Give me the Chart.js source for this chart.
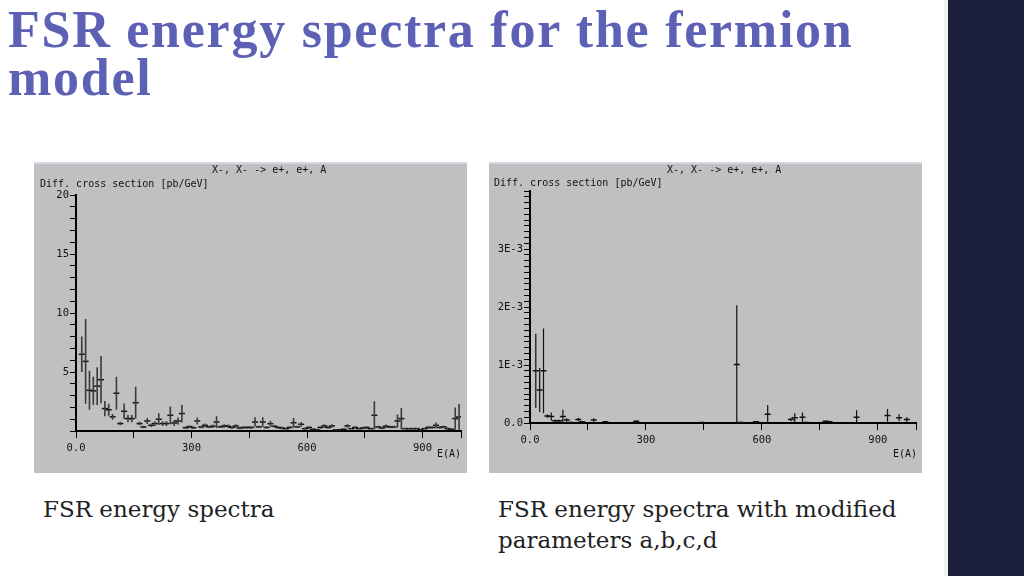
<!DOCTYPE html>
<html>
<head>
<meta charset="utf-8">
<script src="https://cdn.jsdelivr.net/npm/chart.js@4.4.1/dist/chart.umd.min.js"></script>
<style>
  body { margin: 0; width: 1024px; height: 576px; background: #fff; position: relative; overflow: hidden; }
  .title { position: absolute; left: 8px; top: 6px; width: 935px; font-family: 'Liberation Serif', serif; font-weight: bold; font-size: 52px; line-height: 48px; letter-spacing: 1.75px; color: #5c61b5; }
  .sidebar { position: absolute; left: 948px; top: 0; width: 76px; height: 576px; background: #1c1f3c; }
  .sideline { position: absolute; left: 944px; top: 0; width: 4px; height: 576px; background: #f0f0f4; }
  .panel { position: absolute; top: 162px; width: 433px; height: 311px; background: #c0c0c0; border-top: 2px solid #d6d6e4; box-sizing: border-box; }
  .panel canvas { position: absolute; left: 0; top: -2px; }
  .ptxt { position: absolute; font-family: 'DejaVu Sans Mono', monospace; font-size: 10px; color: #111; white-space: pre; }
  .caption { position: absolute; font-family: 'DejaVu Serif', serif; font-size: 23px; line-height: 31px; color: #222; }
</style>
</head>
<body>
<div class="title">FSR energy spectra for the fermion<br>model</div>
<div class="sideline"></div>
<div class="sidebar"></div>

<div class="panel" style="left:34px">
  <canvas id="leftChart" width="433" height="311"></canvas>
  <div class="ptxt" style="left:178px; top:0px">X-, X- -&gt; e+, e+, A</div>
  <div class="ptxt" style="left:6px; top:14px">Diff. cross section [pb/GeV]</div>
  <div class="ptxt" style="left:403px; top:284px">E(A)</div>
</div>

<div class="panel" style="left:489px">
  <canvas id="rightChart" width="433" height="311"></canvas>
  <div class="ptxt" style="left:178px; top:0px">X-, X- -&gt; e+, e+, A</div>
  <div class="ptxt" style="left:5px; top:13px">Diff. cross section [pb/GeV]</div>
  <div class="ptxt" style="left:404px; top:284px">E(A)</div>
</div>

<div class="caption" style="left:43px; top:494px">FSR energy spectra</div>
<div class="caption" style="left:498px; top:494px">FSR energy spectra with modified<br>parameters a,b,c,d</div>

<script>
// Left spectrum: bin centre E(A), value [pb/GeV], error
const leftEnergy = [15, 25, 35, 45, 55, 65, 75, 85, 95, 105, 115, 125, 135, 145, 155, 165, 175, 185, 195, 205,
  215, 225, 235, 245, 255, 265, 275, 285, 295, 305, 315, 325, 335, 345, 355, 365, 375, 385, 395, 405,
  415, 425, 435, 445, 455, 465, 475, 485, 495, 505, 515, 525, 535, 545, 555, 565, 575, 585, 595, 605,
  615, 625, 635, 645, 655, 665, 675, 685, 695, 705, 715, 725, 735, 745, 755, 765, 775, 785, 795, 805,
  815, 825, 835, 845, 855, 865, 875, 885, 895, 905, 915, 925, 935, 945, 955, 965, 975, 985, 995];
const leftValue = [6.5, 5.9, 3.45, 3.4, 3.8, 4.35, 1.9, 1.8, 1.2, 3.2, 0.63, 1.67, 1.05, 1.05, 2.4, 0.63, 0.34, 0.85, 0.48, 0.63,
  1.0, 0.63, 0.63, 1.33, 0.68, 0.85, 1.48, 0.28, 0.37, 0.28, 0.85, 0.34, 0.48, 0.35, 0.4, 0.76, 0.35, 0.43, 0.4, 0.3,
  0.43, 0.25, 0.3, 0.3, 0.3, 0.76, 0.35, 0.76, 0.3, 0.62, 0.4, 0.3, 0.25, 0.2, 0.3, 0.7, 0.35, 0.57, 0.2, 0.3,
  0.15, 0.1, 0.3, 0.43, 0.3, 0.43, 0.1, 0.1, 0.15, 0.43, 0.2, 0.3, 0.2, 0.25, 0.3, 0.2, 1.33, 0.34, 0.25, 0.4,
  0.34, 0.34, 0.85, 1.05, 0.2, 0.2, 0.2, 0.2, 0.1, 0.2, 0.3, 0.3, 0.48, 0.3, 0.35, 0.2, 0.15, 1.05, 1.19];
const leftError = [1.5, 3.6, 1.65, 1.2, 1.6, 2.0, 0.65, 0.5, 0.25, 1.4, 0.15, 0.65, 0.3, 0.3, 1.35, 0.15, 0.1, 0.25, 0.15, 0.2,
  0.5, 0.2, 0.2, 0.75, 0.25, 0.3, 0.75, 0.1, 0.1, 0.1, 0.3, 0.1, 0.15, 0.1, 0.15, 0.5, 0.1, 0.15, 0.15, 0.1,
  0.15, 0.1, 0.1, 0.1, 0.1, 0.4, 0.1, 0.4, 0.1, 0.25, 0.1, 0.1, 0.1, 0.05, 0.1, 0.4, 0.1, 0.2, 0.1, 0.1,
  0.05, 0.05, 0.1, 0.15, 0.1, 0.15, 0.05, 0.05, 0.05, 0.15, 0.05, 0.1, 0.05, 0.1, 0.1, 0.05, 1.2, 0.1, 0.1, 0.15,
  0.1, 0.1, 0.55, 0.9, 0.05, 0.05, 0.05, 0.05, 0.05, 0.05, 0.1, 0.1, 0.25, 0.1, 0.1, 0.1, 0.05, 0.95, 1.1];

// Right spectrum (modified a,b,c,d): only non-empty bins
const rightEnergy = [15, 25, 35, 45, 55, 65, 75, 85, 95, 105, 125, 135, 165, 195, 275, 445, 535, 545, 585, 615,
  675, 685, 705, 715, 765, 775, 845, 925, 955, 975];
const rightValue = [0.00090, 0.00057, 0.00090, 0.00012, 0.00011, 0.00004, 0.00004, 0.00011, 0.00005, 0.00001, 0.00006, 0.00002, 0.00005, 0.00002, 0.00003,
  0.00001, 0.00101, 0.00001, 0.00002, 0.00015, 0.00006, 0.00009, 0.00010, 0.00001, 0.00003, 0.00002, 0.00010, 0.00013, 0.00009, 0.00006];
const rightError = [0.00064, 0.00038, 0.00073, 0.00003, 0.00007, 0.00002, 0.00002, 0.00012, 0.00003, 0.00001, 0.00003, 0.00001, 0.00003, 0.00001, 0.00001,
  0.00001, 0.00102, 0.00001, 0.00001, 0.00016, 0.00003, 0.00008, 0.00008, 0.00001, 0.00001, 0.00001, 0.00012, 0.00011, 0.00006, 0.00004];

const xTickLabels = {0: '0.0', 300: '300', 600: '600', 900: '900'};
const leftYTickLabels = {5: '5', 10: '10', 15: '15', 20: '20'};
const rightYTickLabels = {0: '0.0', 10: '1E-3', 20: '2E-3', 30: '3E-3'};

const monoFont = { family: 'DejaVu Sans Mono', size: 10.5 };

function buildPoints(energy, value) {
  return energy.map((e, i) => ({ x: e, y: value[i] }));
}

// vertical error bars as one line dataset broken by null gaps
function buildErrorBars(energy, value, error) {
  const out = [];
  energy.forEach((e, i) => {
    out.push({ x: e, y: Math.max(0, value[i] - error[i]) });
    out.push({ x: e, y: value[i] + error[i] });
    out.push({ x: e, y: null });
  });
  return out;
}

function makeChart(id, energy, value, error, yOpts, pad, barColor, barWidth) {
  new Chart(document.getElementById(id), {
    data: {
      datasets: [
        {
          type: 'line',
          data: buildErrorBars(energy, value, error),
          borderColor: barColor,
          borderWidth: barWidth,
          pointRadius: 0,
          spanGaps: false,
          fill: false
        },
        {
          type: 'scatter',
          data: buildPoints(energy, value),
          pointStyle: 'line',
          pointRadius: 3,
          borderColor: '#111',
          borderWidth: 1.5
        }
      ]
    },
    options: {
      responsive: false,
      animation: false,
      layout: { padding: pad },
      plugins: { legend: { display: false }, tooltip: { enabled: false } },
      scales: {
        x: {
          type: 'linear',
          min: 0,
          max: 1000,
          afterFit: s => { s.height = pad.xh; },
          border: { display: true, color: '#000', width: 2 },
          grid: { drawOnChartArea: false, drawTicks: true, tickLength: 7, color: '#000' },
          ticks: {
            stepSize: 150,
            autoSkip: false,
            maxRotation: 0,
            padding: 4,
            color: '#111',
            font: monoFont,
            callback: v => xTickLabels[v] || ''
          }
        },
        y: {
          type: 'linear',
          min: yOpts.min,
          max: yOpts.max,
          afterFit: s => { s.width = pad.yw; },
          border: { display: true, color: '#000', width: 2 },
          grid: { drawOnChartArea: false, drawTicks: true, tickLength: 6, color: '#000' },
          ticks: {
            stepSize: yOpts.step,
            autoSkip: false,
            padding: 1,
            color: '#111',
            font: monoFont,
            callback: yOpts.label
          }
        }
      }
    }
  });
}

makeChart('leftChart', leftEnergy, leftValue, leftError,
  { min: 0, max: 20, step: 1, label: v => leftYTickLabels[Math.round(v)] || '' },
  { top: 33, right: 6, left: 0, bottom: 0, xh: 42, yw: 42 }, '#3a3a3a', 1.6);

makeChart('rightChart', rightEnergy, rightValue, rightError,
  { min: 0, max: 0.004, step: 0.0001, label: v => rightYTickLabels[Math.round(v * 10000)] || '' },
  { top: 29, right: 4, left: 0, bottom: 0, xh: 50, yw: 41 }, '#111', 1.2);
</script>
</body>
</html>
